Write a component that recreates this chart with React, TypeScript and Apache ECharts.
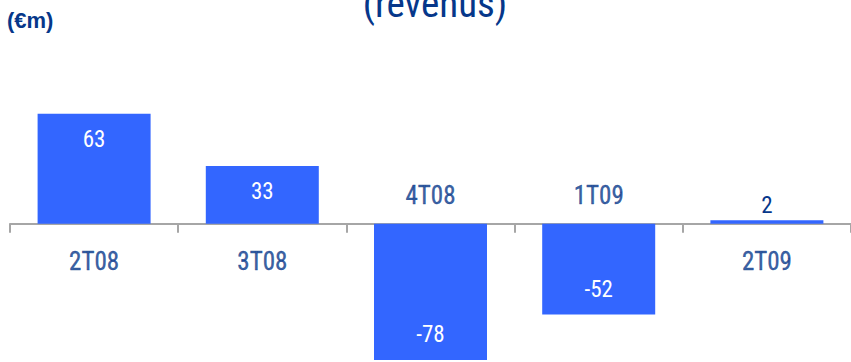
import React, { useEffect, useRef } from "react";
import * as echarts from "echarts";

// Quarterly revenue impact, in € millions
const categories = ["2T08", "3T08", "4T08", "1T09", "2T09"];
const values = [63, 33, -78, -52, 2];

const BAR_BLUE = "#3366FF";
const NAVY = "#06378A";
const FONT = "'Roboto Condensed', 'Liberation Sans', Arial, sans-serif";

export default function App() {
  const ref = useRef<HTMLDivElement>(null);

  useEffect(() => {
    if (!ref.current) return;
    const chart = echarts.init(ref.current, undefined, { renderer: "svg" });

    const barData = values.map((v) => {
      // small bars get their value above; others inside, near the far end
      const small = Math.abs(v) < 10;
      return {
        value: v,
        label: small
          ? { position: "top", distance: 3, color: NAVY }
          : { position: v >= 0 ? "insideTop" : "insideBottom", distance: 14, color: "#FFFFFF" },
      };
    });

    // category names sit on the opposite side of the axis from the bar
    const nameData = categories.map((c, i) => ({
      value: [c, 0],
      label: {
        position: values[i] >= 0 ? "bottom" : "top",
        distance: values[i] >= 0 ? 25 : 16,
        formatter: c,
      },
    }));

    chart.setOption({
      animation: false,
      grid: { left: 10, width: 848, top: 84, height: 276 },
      graphic: [
        {
          type: "text",
          left: 7,
          top: 9,
          style: {
            text: "(€m)",
            font: "bold 22px 'Liberation Sans', Arial, sans-serif",
            fill: NAVY,
          },
        },
        {
          type: "text",
          x: 435,
          y: 23,
          style: {
            text: "(revenus)",
            font: `39px ${FONT}`,
            fill: NAVY,
            textAlign: "center",
            textVerticalAlign: "bottom",
          },
        },
      ],
      xAxis: {
        type: "category",
        data: categories,
        axisLine: { show: true, onZero: true, lineStyle: { color: "#A6A6A6", width: 2 } },
        axisTick: { show: true, length: 9, lineStyle: { color: "#A6A6A6", width: 2 } },
        axisLabel: { show: false },
        splitLine: { show: false },
      },
      yAxis: {
        type: "value",
        min: -78,
        max: 80,
        show: false,
        splitLine: { show: false },
      },
      series: [
        {
          type: "bar",
          data: barData,
          barWidth: 113,
          itemStyle: { color: BAR_BLUE },
          label: {
            show: true,
            fontFamily: FONT,
            fontSize: 23,
          },
        },
        {
          type: "scatter",
          data: nameData,
          symbolSize: 0,
          silent: true,
          label: {
            show: true,
            fontFamily: FONT,
            fontSize: 25,
            color: NAVY,
            textBorderColor: NAVY,
            textBorderWidth: 0.4,
          },
        },
      ],
    });

    return () => chart.dispose();
  }, []);

  return <div ref={ref} style={{ width: 851, height: 362, position: "absolute", left: 0, top: 0 }} />;
}
